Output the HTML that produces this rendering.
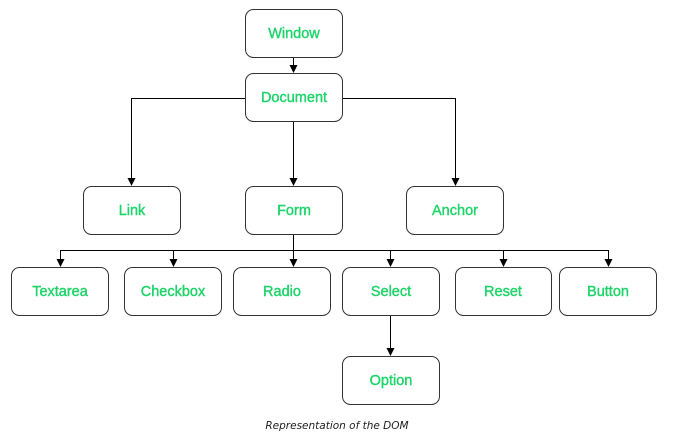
<!DOCTYPE html>
<html><head><meta charset="utf-8"><style>
html,body{margin:0;padding:0;background:#fff;}
svg{display:block;}
</style></head><body>
<svg width="676" height="439" xmlns="http://www.w3.org/2000/svg">
<g fill="none" stroke="#000" stroke-width="1">
<line x1="293.5" y1="57" x2="293.5" y2="70"/>
<polyline points="245,98.5 131.5,98.5 131.5,182"/>
<polyline points="342,98.5 455.5,98.5 455.5,182"/>
<line x1="293.5" y1="121" x2="293.5" y2="182"/>
<line x1="293.5" y1="235" x2="293.5" y2="263"/>
<polyline points="60.5,263 60.5,250.5 608.5,250.5 608.5,263"/>
<line x1="173.5" y1="250.5" x2="173.5" y2="263"/>
<line x1="390.5" y1="250.5" x2="390.5" y2="263"/>
<line x1="503.5" y1="250.5" x2="503.5" y2="263"/>
<line x1="390.5" y1="316" x2="390.5" y2="352"/>
</g>
<g fill="#000">
<path d="M289.5,65 L297.5,65 L293.5,73 Z"/>
<path d="M127.5,178 L135.5,178 L131.5,186 Z"/>
<path d="M451.5,178 L459.5,178 L455.5,186 Z"/>
<path d="M289.5,178 L297.5,178 L293.5,186 Z"/>
<path d="M56.5,259 L64.5,259 L60.5,267 Z"/>
<path d="M169.5,259 L177.5,259 L173.5,267 Z"/>
<path d="M289.5,259 L297.5,259 L293.5,267 Z"/>
<path d="M386.5,259 L394.5,259 L390.5,267 Z"/>
<path d="M499.5,259 L507.5,259 L503.5,267 Z"/>
<path d="M604.5,259 L612.5,259 L608.5,267 Z"/>
<path d="M386.5,348 L394.5,348 L390.5,356 Z"/>
</g>
<g fill="#fff" stroke="#333" stroke-width="1">
<rect x="245.5" y="9.5" width="97" height="48" rx="8"/>
<rect x="245.5" y="73.5" width="97" height="48" rx="8"/>
<rect x="83.5" y="186.5" width="97" height="48" rx="8"/>
<rect x="245.5" y="186.5" width="97" height="48" rx="8"/>
<rect x="406.5" y="186.5" width="97" height="48" rx="8"/>
<rect x="11.5" y="267.5" width="97" height="48" rx="8"/>
<rect x="124.5" y="267.5" width="97" height="48" rx="8"/>
<rect x="233.5" y="267.5" width="97" height="48" rx="8"/>
<rect x="342.5" y="267.5" width="97" height="48" rx="8"/>
<rect x="455.5" y="267.5" width="96" height="48" rx="8"/>
<rect x="559.5" y="267.5" width="97" height="48" rx="8"/>
<rect x="342.5" y="356.5" width="97" height="48" rx="8"/>
</g>
<g fill="#1fd46a" stroke="#1fd46a" stroke-width="0.4" font-family="Liberation Sans, sans-serif" font-size="14.5" text-anchor="middle">
<text x="294" y="38">Window</text>
<text x="294" y="102">Document</text>
<text x="132" y="215">Link</text>
<text x="294" y="215">Form</text>
<text x="455" y="215">Anchor</text>
<text x="60" y="296">Textarea</text>
<text x="173" y="296">Checkbox</text>
<text x="282" y="296">Radio</text>
<text x="391" y="296">Select</text>
<text x="503" y="296">Reset</text>
<text x="608" y="296">Button</text>
<text x="391" y="385">Option</text>
</g>
<text x="337" y="429" fill="#222" font-family="DejaVu Sans, sans-serif" font-size="10.5" font-style="italic" text-anchor="middle">Representation of the DOM</text>
</svg>
</body></html>
